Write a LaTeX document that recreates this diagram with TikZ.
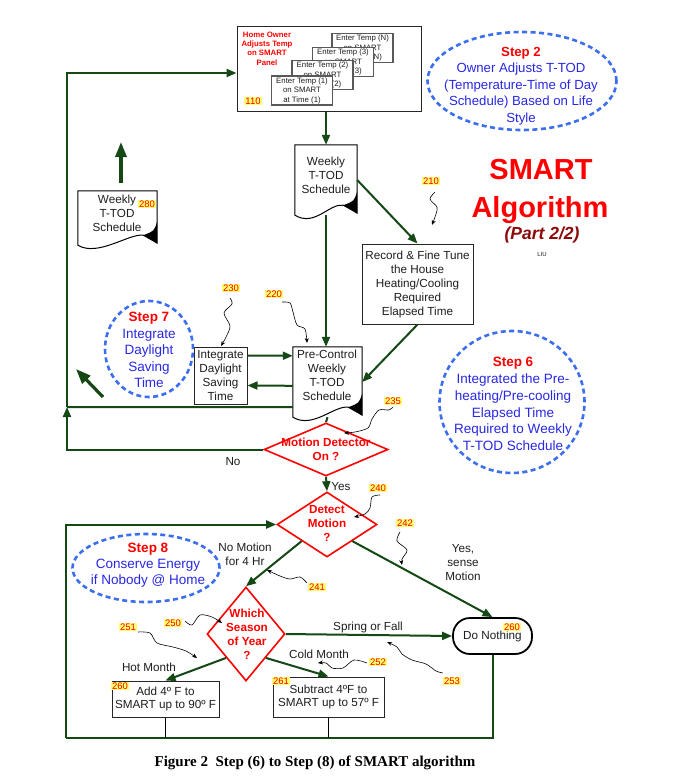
\documentclass[tikz,border=0pt]{standalone}
\usepackage{fontspec}
\setmainfont{Liberation Sans}
\newfontfamily\capfont{Liberation Serif}
\usetikzlibrary{arrows.meta,shapes.geometric,calc}

\definecolor{dg}{RGB}{20,72,20}
\definecolor{stepblue}{RGB}{40,40,230}
\definecolor{dashblue}{RGB}{60,110,240}
\definecolor{darkred}{RGB}{140,10,10}
\definecolor{lblyellow}{RGB}{255,255,110}
\definecolor{txt}{RGB}{30,30,30}

\newcommand{\fs}[2]{\fontsize{#1}{#2}\selectfont}

\newcommand{\docshape}[1]{%
 \draw[line width=1pt, fill=white] (#1.north west) -- (#1.north east) -- ($(#1.south east)+(0,-2)$)
   .. controls ($(#1.south east)+(-5,-5)$) .. ($(#1.south east)+(-14,-10)$)
   .. controls ($(#1.south east)+(-28,-12)$) and ($(#1.south west)+(20,12)$) .. (#1.south west) -- cycle;
 \fill ($(#1.south east)+(0,-24)$) .. controls ($(#1.south east)+(-3,-14)$) .. ($(#1.south east)+(-14,-10)$)
   .. controls ($(#1.south east)+(-5,-5)$) .. ($(#1.south east)+(0,-2)$) -- cycle;
}

\tikzset{
 txtn/.style={font=\fs{11.7}{14}, text=txt, align=center, inner sep=0},
 rect/.style={draw=black!85, line width=1pt, fill=white, inner sep=0},
 card/.style={draw=black!65, line width=1.1pt, fill=white, minimum width=61, minimum height=29, inner sep=0, align=center, font=\fs{7.8}{9.5}, text=txt},
 docn/.style={inner sep=0, draw=none},
 dia/.style={diamond, draw=red, line width=1.6pt, inner sep=0, fill=white},
 dtext/.style={font=\bfseries\fs{11.7}{14}, text=red, align=center, inner sep=0},
 stepe/.style={ellipse, draw=dashblue, line width=2.6pt, dash pattern=on 5pt off 3.5pt, inner sep=0},
 steptext/.style={text=stepblue, align=center, inner sep=0},
 lbl/.style={fill=lblyellow, text=red, font=\fs{9.5}{10}, inner xsep=1pt, inner ysep=0.6pt},
 flow/.style={draw=dg, line width=2pt, -{Triangle[length=10pt,width=8pt]}},
 flowline/.style={draw=dg, line width=2pt},
 bigarrow/.style={draw=dg, line width=3.2pt, -{Triangle[length=15pt,width=11pt]}},
 squig/.style={draw=black, line width=0.6pt, -{Stealth[length=5pt,width=4pt]}},
}

\begin{document}
\begin{tikzpicture}[x=1pt,y=-1pt]
\useasboundingbox (0,0) rectangle (673,776);
\fill[white] (0,0) rectangle (673,776);

% ---------- top box 110 ----------
\node[rect, minimum width=184, minimum height=84] (box110) at (329,69) {};
\node[font=\bfseries\fs{7.8}{9.3}, text=red, align=center, inner sep=0] (hotxt) at (267,48.5) {Home Owner\\Adjusts Temp\\on SMART\\Panel};
\node[card] (cN) at (362.5,48) {Enter Temp (N)\\on SMART\\at Time (N)};
\node[card] (c3) at (343,62) {Enter Temp (3)\\on SMART\\at Time (3)};
\node[card] (c2) at (322.5,75) {Enter Temp (2)\\on SMART\\at Time (2)};
\node[card] (c1) at (302,90.5) {Enter Temp (1)\\on SMART\\at Time (1)};
\node[lbl] (l110) at (253,101) {110};

% ---------- documents ----------
\node[docn, minimum width=62, minimum height=70] (wk) at (326,180) {};
\docshape{wk}
\node[txtn] (wkt) at (326,175) {Weekly\\T-TOD\\Schedule};

\node[docn, minimum width=79, minimum height=54] (wk2) at (117.5,218) {};
\docshape{wk2}
\node[txtn] (wk2t) at (117,213) {Weekly\\T-TOD\\Schedule};
\node[lbl] (l280) at (147,204) {280};

\node[docn, minimum width=69, minimum height=70] (pc) at (327.5,382) {};
\docshape{pc}
\node[txtn] (pct) at (327,375) {Pre-Control\\Weekly\\T-TOD\\Schedule};

% ---------- boxes ----------
\node[rect, txtn, minimum width=111, minimum height=80] (rec) at (417.5,284) {Record \& Fine Tune\\the House\\Heating/Cooling\\Required\\Elapsed Time};
\node[rect, txtn, minimum width=53, minimum height=57] (ids) at (220.5,375.5) {Integrate\\Daylight\\Saving\\Time};

% ---------- diamonds ----------
\node[dia, minimum width=124, minimum height=53] (md) at (326,449.5) {};
\node[dtext] (mdt) at (326,449) {Motion Detector\\On ?};
\node[dia, minimum width=100, minimum height=65] (dm) at (327,524.5) {};
\node[dtext] (dmt) at (327,523) {Detect\\Motion\\?};
\node[dia, minimum width=78, minimum height=94] (ws) at (246,634) {};
\node[dtext] (wst) at (247,634) {Which\\Season\\of Year\\?};

\node[draw=black, line width=1.8pt, rounded corners=17pt, minimum width=79, minimum height=36, txtn, fill=white] (dn) at (492.5,636) {Do Nothing};
\node[lbl] (l260a) at (512,627) {260};

\node[rect, txtn, font=\fs{11.7}{13.5}, minimum width=107, minimum height=36] (add) at (165.5,699) {Add 4º F to\\SMART up to 90º F};
\node[rect, txtn, font=\fs{11.7}{13.5}, minimum width=111, minimum height=40] (sub) at (328.5,697) {Subtract 4ºF to\\SMART up to 57º F};
\node[lbl] (l260b) at (120,686) {260};
\node[lbl] (l261) at (281,681) {261};

% ---------- step ellipses ----------
\node[stepe, minimum width=189, minimum height=98] (s2) at (522,81) {};
\node[steptext, font=\fs{13.2}{16.5}] (s2t) at (521,86) {\textcolor{red}{\bfseries Step 2}\\Owner Adjusts T-TOD\\(Temperature-Time of Day\\Schedule) Based on Life\\Style};
\node[stepe, minimum width=88, minimum height=96] (s7) at (149,349) {};
\node[steptext, font=\fs{13.5}{16.5}] (s7t) at (149,350) {\textcolor{red}{\bfseries Step 7}\\Integrate\\Daylight\\Saving\\Time};
\node[stepe, minimum width=145, minimum height=142] (s6) at (512,402) {};
\node[steptext, font=\fs{13.5}{16.8}] (s6t) at (513,404) {\textcolor{red}{\bfseries Step 6}\\Integrated the Pre-\\heating/Pre-cooling\\Elapsed Time\\Required to Weekly\\T-TOD Schedule};
\node[stepe, minimum width=147, minimum height=68] (s8) at (146,568) {};
\node[steptext, font=\fs{13.5}{16}] (s8t) at (148,565) {\textcolor{red}{\bfseries Step 8}\\Conserve Energy\\if Nobody @ Home};

% ---------- title ----------
\node[font=\bfseries\fs{29}{30}, text=red, anchor=base, inner sep=0] (t1) at (541,179) {SMART};
\node[font=\bfseries\fs{29}{30}, text=red, anchor=base, inner sep=0] (t2) at (540,217) {Algorithm};
\node[font=\bfseries\itshape\fs{17.5}{18}, text=darkred, anchor=base, inner sep=0] (t3) at (542,239) {(Part 2/2)};
\node[font=\fs{6}{7}, text=txt, anchor=base, inner sep=0] (t4) at (542,256) {LIU};

% ---------- connectors ----------
\coordinate (lc) at (67,407);
\coordinate (bl) at (66,738);
\draw[flowline] ($(pc.south west)+(0,-10)$) -- (lc);
\draw[flow] (lc) |- ($(box110.west)+(0,4)$);
\draw[flow] (md.west) -| (lc);
\draw[flow] (wk.north |- box110.south) -- (wk.north);
\draw[flow] (wk.east) -- (rec.north);
\draw[flow] (wk.south) -- (wk.south |- pc.north);
\draw[flow] (rec.south) -- (pc.east);
\draw[flow] ($(ids.north east)+(0,9)$) -- ($(pc.north west)+(0,9)$);
\draw[flow] ($(pc.north west)+(0,39)$) -- ($(ids.north east)+(0,39)$);
\draw[flowline] (pc.south) -- (md.north);
\draw[flow] (md.south) -- (dm.north);
\draw[flow] (dm.south west) -- (ws.north);
\draw[flow] (dm.south east) -- (dn.north);
\draw[flow] (ws.east) -- (dn.west);
\draw[flow] (ws.south west) -- (add.north);
\draw[flow] (ws.south east) -- (sub.north);
\draw[flowline] (dn.south) |- (bl);
\draw[flow] (bl) |- (dm.west);
\draw[line width=1.5pt, black] (add.south) -- (add.south |- bl);
\draw[line width=1.5pt, black] (sub.south) -- (sub.south |- bl);

% free thick arrows
\coordinate (ua1) at (121,183);
\coordinate (ua2) at (121,142);
\draw[bigarrow] (ua1) -- (ua2);
\coordinate (da1) at (103,397);
\coordinate (da2) at (76,369);
\draw[bigarrow] (da1) -- (da2);

% connector labels
\node[txtn] (no) at (233,462) {No};
\node[txtn] (yes) at (341,487) {Yes};
\node[txtn] (nm) at (245,554) {No Motion\\for 4 Hr};
\node[txtn] (ysm) at (463,563) {Yes,\\sense\\Motion};
\node[txtn] (sf) at (368,627) {Spring or Fall};
\node[txtn] (hm) at (149,667) {Hot Month};
\node[txtn] (cm) at (319,654) {Cold Month};

% reference labels and leaders
\node[lbl] (l210) at (431,181) {210};
\node[lbl] (l230) at (231,288) {230};
\node[lbl] (l220) at (274,294) {220};
\node[lbl] (l235) at (393,401) {235};
\node[lbl] (l240) at (378,488) {240};
\node[lbl] (l242) at (405,523) {242};
\node[lbl] (l241) at (317,587) {241};
\node[lbl] (l250) at (173,623) {250};
\node[lbl] (l251) at (128,627) {251};
\node[lbl] (l252) at (378,662) {252};
\node[lbl] (l253) at (452,681) {253};

\draw[squig] plot[smooth] coordinates {(435,192) (430,199) (437,207) (436,214) (432,225)};
\draw[squig] plot[smooth] coordinates {(230,298) (232,304) (224,313) (230,326) (226,337) (221,346)};
\draw[squig] plot[smooth] coordinates {(282,302) (290,303) (293,312) (297,325) (305,329) (307,343)};
\draw[squig] plot[smooth] coordinates {(393,407) (389,410) (379,410) (372,419) (368,428) (355,432) (344,433)};
\draw[squig] plot[smooth] coordinates {(380,495) (372,497) (370,508) (365,514) (354,517)};
\draw[squig] plot[smooth] coordinates {(400,532) (397,541) (407,550) (402,559) (402,565)};
\draw[squig] plot[smooth] coordinates {(307,583) (300,577) (290,579) (280,576) (267,570)};
\draw[squig] plot[smooth] coordinates {(185,621) (192,625) (200,615) (212,617) (222,623)};
\draw[squig] plot[smooth] coordinates {(138,632) (150,633) (157,643) (173,647) (186,651) (197,658)};
\draw[squig] plot[smooth] coordinates {(367,663) (354,660) (343,668) (332,668) (326,663) (318,663)};
\draw[squig] plot[smooth] coordinates {(443,673) (436,671) (426,664) (412,660) (402,654) (397,647) (387,642)};

% caption
\node[font=\capfont\bfseries\fs{15}{16}, text=black, anchor=base, inner sep=0] (cap) at (315,766) {Figure 2\ \ Step (6) to Step (8) of SMART algorithm};
\end{tikzpicture}
\end{document}
